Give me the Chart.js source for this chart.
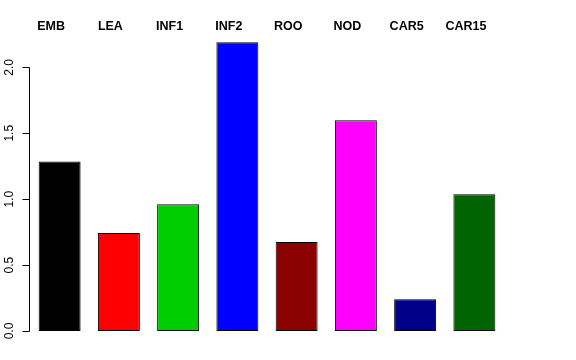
<!DOCTYPE html>
<html>
<head>
<meta charset="utf-8">
<script src="https://cdn.jsdelivr.net/npm/chart.js@4"></script>
<style>
  html, body { margin: 0; padding: 0; background: #fff; }
  #wrap { width: 576px; height: 360px; }
</style>
</head>
<body>
<div id="wrap"><canvas id="barChart" width="576" height="360"></canvas></div>
<script>
// data
const categories = ['EMB', 'LEA', 'INF1', 'INF2', 'ROO', 'NOD', 'CAR5', 'CAR15'];
const values = [1.285, 0.744, 0.962, 2.19, 0.675, 1.598, 0.24, 1.038];
const barColors = ['#000000', '#ff0000', '#00cd00', '#0000ff', '#8b0000', '#ff00ff', '#00008b', '#006400'];
const yTicks = [0, 0.5, 1, 1.5, 2];
const yTickLabels = ['0.0', '0.5', '1.0', '1.5', '2.0'];

// R-style left axis + labels above the bars
const baseAxisPlugin = {
    id: 'baseAxis',
    afterDraw(chart) {
        const ctx = chart.ctx;
        const y = chart.scales.y;
        const x = chart.scales.x;
        const axisX = 29.5;
        ctx.save();
        ctx.strokeStyle = '#000';
        ctx.lineWidth = 1;
        ctx.beginPath();
        ctx.moveTo(axisX, Math.round(y.getPixelForValue(yTicks[0])) + 0.5);
        ctx.lineTo(axisX, Math.round(y.getPixelForValue(yTicks[yTicks.length - 1])) + 0.5);
        yTicks.forEach(function (v) {
            const py = Math.round(y.getPixelForValue(v)) + 0.5;
            ctx.moveTo(axisX, py);
            ctx.lineTo(axisX - 7, py);
        });
        ctx.stroke();

        ctx.fillStyle = '#000';
        ctx.font = '12px "Liberation Sans", Arial, sans-serif';
        ctx.textAlign = 'center';
        ctx.textBaseline = 'middle';
        yTicks.forEach(function (v, i) {
            const py = y.getPixelForValue(v);
            ctx.save();
            ctx.translate(10, py);
            ctx.rotate(-Math.PI / 2);
            ctx.fillText(yTickLabels[i], 0, 0);
            ctx.restore();
        });

        ctx.font = 'bold 12.5px "Liberation Sans", Arial, sans-serif';
        categories.forEach(function (c, i) {
            ctx.fillText(c, x.getPixelForValue(i) - 8.5, 27);
        });
        ctx.restore();
    }
};

document.addEventListener('DOMContentLoaded', function () {
    const ctx = document.getElementById('barChart').getContext('2d');
    new Chart(ctx, {
        type: 'bar',
        data: {
            labels: categories,
            datasets: [{
                data: values,
                backgroundColor: barColors,
                borderColor: '#000',
                borderWidth: 1,
                borderSkipped: false,
                barPercentage: 0.708,
                categoryPercentage: 1
            }]
        },
        options: {
            responsive: false,
            animation: false,
            layout: { padding: { left: 30, right: 72, top: 41, bottom: 29 } },
            plugins: { legend: { display: false }, tooltip: { enabled: false } },
            scales: {
                x: { display: false },
                y: { display: false, min: 0, max: 2.2 }
            }
        },
        plugins: [baseAxisPlugin]
    });
});
</script>
</body>
</html>
